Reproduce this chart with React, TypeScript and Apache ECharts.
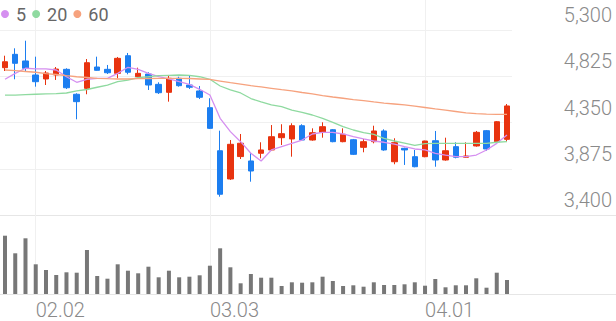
import React, { useEffect, useRef } from "react";
import * as echarts from "echarts";

const dates = [
  "01.28", "01.29", "01.30", "02.02", "02.03", "02.04", "02.05", "02.06", "02.09", "02.10",
  "02.11", "02.12", "02.13", "02.19", "02.20", "02.23", "02.24", "02.25", "02.26", "02.27",
  "03.03", "03.04", "03.05", "03.06", "03.09", "03.10", "03.11", "03.12", "03.13", "03.16",
  "03.17", "03.18", "03.19", "03.20", "03.23", "03.24", "03.25", "03.26", "03.27", "03.30",
  "03.31", "04.01", "04.02", "04.03", "04.06", "04.07", "04.08", "04.09", "04.10", "04.13",
];
const dateTicks = ["02.02", "03.03", "04.01"];
const priceTicks = ["3,400", "3,875", "4,350", "4,825", "5,300"];

const opens = [
  4913, 5050, 4982, 4838, 4797, 4838, 4896, 4640, 4701, 4920,
  4896, 4855, 5036, 4820, 4848, 4742, 4660, 4804, 4735, 4674,
  4502, 4060, 3770, 4000, 3955, 4034, 4068, 4194, 4181, 4317,
  4170, 4249, 4276, 4153, 4173, 4095, 4153, 4263, 3947, 4085,
  3999, 3999, 4163, 3965, 4102, 3993, 4109, 4266, 4153, 4177,
];
const closes = [
  4974, 4958, 4907, 4769, 4858, 4899, 4707, 4564, 4964, 4886,
  4861, 5009, 4866, 4855, 4735, 4656, 4804, 4728, 4712, 4609,
  4290, 3613, 4126, 4137, 3852, 4068, 4204, 4235, 4317, 4170,
  4245, 4307, 4153, 4229, 4023, 4153, 4263, 4068, 4143, 4068,
  3896, 4160, 3965, 4060, 3993, 4006, 4249, 4078, 4358, 4520,
];
const lows = [
  4879, 4794, 4879, 4718, 4735, 4787, 4694, 4383, 4640, 4882,
  4848, 4804, 4845, 4814, 4684, 4643, 4564, 4718, 4694, 4591,
  4283, 3588, 3760, 3975, 3742, 3982, 4060, 4119, 3999, 4163,
  4163, 4194, 4147, 4147, 4016, 4044, 4136, 4060, 3921, 3914,
  3890, 3993, 3896, 3958, 3982, 3989, 4102, 4060, 4143, 4153,
];
const highs = [
  5036, 5112, 5190, 5026, 4879, 4920, 4907, 4650, 5002, 5026,
  4941, 5023, 5064, 4913, 4866, 4763, 4838, 4820, 4828, 4725,
  4599, 4266, 4170, 4232, 4040, 4147, 4324, 4332, 4342, 4332,
  4290, 4352, 4283, 4290, 4181, 4181, 4317, 4280, 4188, 4091,
  4068, 4163, 4263, 4194, 4147, 4147, 4263, 4273, 4365, 4540,
];
const volumes = [
  583000, 407000, 557000, 297000, 240000, 190000, 217000, 213000, 440000, 180000,
  153000, 297000, 233000, 207000, 273000, 167000, 233000, 167000, 173000, 187000,
  283000, 457000, 267000, 107000, 200000, 163000, 163000, 80000, 117000, 113000,
  117000, 173000, 130000, 80000, 87000, 73000, 117000, 90000, 90000, 97000,
  117000, 83000, 150000, 67000, 87000, 87000, 157000, 63000, 213000, 140000,
];
const ma5 = [
  4794, 4855, 4907, 4900, 4900, 4889, 4820, 4763, 4794, 4804,
  4804, 4855, 4917, 4895, 4855, 4820, 4797, 4769, 4742, 4691,
  4632, 4393, 4256, 4153, 4034, 3955, 4068, 4102, 4136, 4170,
  4232, 4249, 4249, 4232, 4204, 4181, 4160, 4147, 4129, 4102,
  4078, 4068, 4034, 4016, 3999, 3999, 4016, 4068, 4136, 4222,
];
const ma20 = [
  4632, 4632, 4636, 4640, 4643, 4646, 4653, 4674, 4689, 4712,
  4735, 4769, 4786, 4810, 4820, 4831, 4835, 4838, 4833, 4820,
  4794, 4725, 4684, 4653, 4596, 4561, 4530, 4512, 4478, 4455,
  4427, 4393, 4352, 4307, 4273, 4245, 4227, 4186, 4160, 4139,
  4114, 4134, 4136, 4136, 4136, 4136, 4136, 4136, 4147, 4153,
];
const ma60 = [
  4889, 4882, 4874, 4866, 4853, 4843, 4831, 4820, 4812, 4804,
  4800, 4797, 4797, 4800, 4802, 4804, 4804, 4804, 4802, 4797,
  4792, 4776, 4759, 4745, 4728, 4715, 4701, 4687, 4674, 4658,
  4643, 4627, 4612, 4599, 4586, 4574, 4561, 4550, 4540, 4530,
  4519, 4504, 4489, 4478, 4463, 4448, 4442, 4437, 4434, 4434,
];

const UP = "#e8330f";
const DOWN = "#1c7ef0";
const FONT = "Roboto";

export default function App() {
  const ref = useRef<HTMLDivElement>(null);
  useEffect(() => {
    if (!ref.current) return;
    const chart = echarts.init(ref.current, null, { renderer: "svg" });
    const candles = dates.map((_, i) => [opens[i], closes[i], lows[i], highs[i]]);
    const showTick = (_i: number, v: string) => dateTicks.includes(v);
    chart.setOption({
      animation: false,
      backgroundColor: "#ffffff",
      legend: {
        data: ["5", "20", "60"],
        left: 1,
        top: 5,
        padding: 0,
        icon: "circle",
        itemWidth: 8,
        itemHeight: 8,
        itemGap: 6,
        selectedMode: false,
        textStyle: { fontSize: 18, color: "#666666", fontFamily: FONT, padding: [0, 0, 0, 2] },
      },
      grid: [
        { left: 5, right: 109, top: 30, height: 185 },
        { left: 5, right: 109, top: 215, height: 79 },
        { left: 0, right: 104, top: 30, height: 185 },
        { left: 0, right: 0, top: 215, height: 79 },
        { left: 5, right: 109, top: 0, height: 294 },
      ],
      xAxis: [
        { type: "category", gridIndex: 0, data: dates, boundaryGap: false, show: false },
        {
          type: "category",
          gridIndex: 1,
          data: dates,
          boundaryGap: false,
          axisLine: { show: false },
          axisTick: { show: false },
          splitLine: { show: false },
          axisLabel: {
            interval: showTick,
            align: "left",
            margin: 6,
            fontSize: 20,
            fontFamily: FONT,
            fontWeight: 300,
            color: "#8a8a8a",
          },
        },
        { type: "value", gridIndex: 2, min: 0, max: 1, show: false },
        { type: "value", gridIndex: 3, min: 0, max: 1, show: false },
        {
          type: "category",
          gridIndex: 4,
          data: dates,
          boundaryGap: false,
          axisLine: { show: false },
          axisTick: { show: false },
          axisLabel: { show: false },
          splitLine: { show: true, interval: showTick, lineStyle: { color: "#f0f0f0", width: 1 } },
        },
      ],
      yAxis: [
        { type: "value", gridIndex: 0, min: 3400, max: 5300, show: false },
        { type: "value", gridIndex: 1, min: 0, max: 790000, show: false },
        {
          type: "value",
          gridIndex: 2,
          position: "right",
          min: 0,
          max: 4,
          interval: 1,
          axisLine: { show: false },
          axisTick: { show: false },
          splitLine: { show: true, lineStyle: { color: "#f0f0f0", width: 1 } },
          axisLabel: {
            formatter: (v: number) => priceTicks[Math.round(v)] ?? "",
            align: "right",
            verticalAlign: "bottom",
            margin: 100,
            padding: [0, 0, 5, 0],
            fontSize: 20,
            fontFamily: FONT,
            fontWeight: 300,
            color: "#8a8a8a",
          },
        },
        {
          type: "value",
          gridIndex: 3,
          min: 0,
          max: 1,
          interval: 1,
          axisLine: { show: false },
          axisTick: { show: false },
          axisLabel: { show: false },
          splitLine: { show: true, lineStyle: { color: "#e6e6e6", width: 1 } },
        },
        { type: "value", gridIndex: 4, min: 0, max: 1, show: false },
      ],
      series: [
        {
          type: "candlestick",
          name: "price",
          xAxisIndex: 0,
          yAxisIndex: 0,
          data: candles,
          barWidth: 6,
          z: 3,
          itemStyle: {
            color: UP,
            color0: DOWN,
            borderColor: UP,
            borderColor0: DOWN,
            borderWidth: 1,
          },
        },
        {
          type: "line",
          name: "5",
          xAxisIndex: 0,
          yAxisIndex: 0,
          data: ma5,
          symbol: "none",
          color: "#d58ff0",
          lineStyle: { width: 1.3, color: "#d58ff0" },
          z: 4,
        },
        {
          type: "line",
          name: "20",
          xAxisIndex: 0,
          yAxisIndex: 0,
          data: ma20,
          symbol: "none",
          color: "#8fdaa0",
          lineStyle: { width: 1.3, color: "#8fdaa0" },
          z: 4,
        },
        {
          type: "line",
          name: "60",
          xAxisIndex: 0,
          yAxisIndex: 0,
          data: ma60,
          symbol: "none",
          color: "#f6a27e",
          lineStyle: { width: 1.3, color: "#f6a27e" },
          z: 4,
        },
        {
          type: "bar",
          name: "volume",
          xAxisIndex: 1,
          yAxisIndex: 1,
          data: volumes,
          barWidth: 4,
          itemStyle: { color: "#777777" },
        },
      ],
    });
    return () => chart.dispose();
  }, []);
  return (
    <div
      ref={ref}
      style={{ position: "fixed", left: 0, top: 0, width: 616, height: 321, background: "#fff" }}
    />
  );
}
